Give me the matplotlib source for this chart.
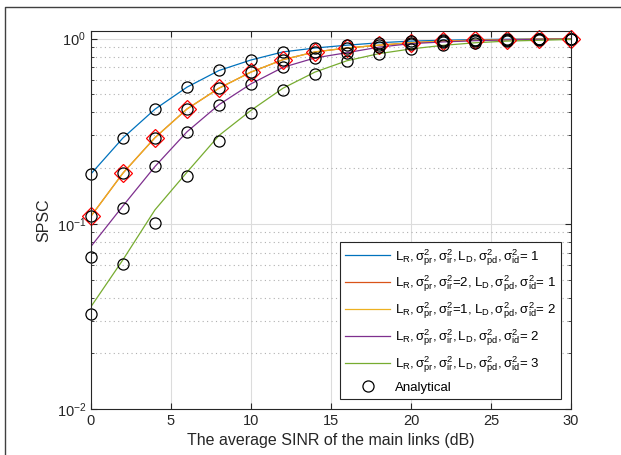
import matplotlib
matplotlib.use("Agg")
import matplotlib.pyplot as plt
from matplotlib.lines import Line2D
from matplotlib.ticker import LogLocator, NullFormatter

plt.rc("font", family="Liberation Sans", size=10.5)
plt.rc("mathtext", fontset="custom", rm="Liberation Sans", it="Liberation Sans:italic",
       bf="Liberation Sans:bold")

# SINR grid (dB)
sinr = [0, 2, 4, 6, 8, 10, 12, 14, 16, 18, 20, 22, 24, 26, 28, 30]

# simulated curves (lines)
sim_1 = [0.186, 0.291, 0.416, 0.547, 0.673, 0.767, 0.848, 0.89, 0.922, 0.95, 0.97, 0.98, 0.988, 0.993, 0.996, 0.998]
sim_2 = [0.110, 0.188, 0.292, 0.417, 0.54, 0.66, 0.77, 0.848, 0.89, 0.922, 0.95, 0.97, 0.98, 0.988, 0.993, 0.996]
sim_3 = sim_2
sim_4 = [0.0755, 0.125, 0.204, 0.314, 0.44, 0.57, 0.70, 0.787, 0.84, 0.90, 0.94, 0.96, 0.975, 0.985, 0.99, 0.995]
sim_5 = [0.0357, 0.064, 0.119, 0.19, 0.30, 0.41, 0.54, 0.66, 0.76, 0.83, 0.88, 0.92, 0.95, 0.97, 0.98, 0.99]

# analytical points (circles)
ana_1 = sim_1
ana_2 = sim_2
ana_4 = [0.066, 0.121, 0.204, 0.314, 0.44, 0.57, 0.70, 0.787, 0.84, 0.90, 0.94, 0.96, 0.975, 0.985, 0.99, 0.995]
ana_5 = [0.0326, 0.0605, 0.1006, 0.181, 0.281, 0.396, 0.525, 0.643, 0.754, 0.83, 0.88, 0.92, 0.95, 0.97, 0.98, 0.99]

labels = [
    r"$\mathrm{L_R,\sigma^2_{pr},\sigma^2_{ir},L_D,\sigma^2_{pd},\sigma^2_{id}}$= 1",
    r"$\mathrm{L_R,\sigma^2_{pr},\sigma^2_{ir}}$=2, $\mathrm{L_D,\sigma^2_{pd},\sigma^2_{id}}$= 1",
    r"$\mathrm{L_R,\sigma^2_{pr},\sigma^2_{ir}}$=1, $\mathrm{L_D,\sigma^2_{pd},\sigma^2_{id}}$= 2",
    r"$\mathrm{L_R,\sigma^2_{pr},\sigma^2_{ir},L_D,\sigma^2_{pd},\sigma^2_{id}}$= 2",
    r"$\mathrm{L_R,\sigma^2_{pr},\sigma^2_{ir},L_D,\sigma^2_{pd},\sigma^2_{id}}$= 3",
]
colors = ["#0072BD", "#D95319", "#EDB120", "#7E2F8E", "#77AC30"]

fig = plt.figure(figsize=(6.21, 4.55), dpi=100)
ax = fig.add_axes([0.1465, 0.1011, 0.773, 0.8308])

for vals, col, lab in zip([sim_1, sim_2, sim_3, sim_4, sim_5], colors, labels):
    ax.plot(sinr, vals, color=col, linewidth=0.9, label=lab)

# red diamonds on the second curve
ax.plot(sinr, sim_2, linestyle="None", marker="D", markersize=9, markerfacecolor="none",
        markeredgecolor="red", markeredgewidth=0.9, label="_nolegend_", clip_on=False)

first = True
for vals in [ana_1, ana_2, ana_4, ana_5]:
    ax.plot(sinr, vals, linestyle="None", marker="o", markersize=8, markerfacecolor="none",
            markeredgecolor="black", markeredgewidth=0.9, clip_on=False,
            label="Analytical" if first else "_nolegend_")
    first = False

ax.set_yscale("log")
ax.set_xlim(0, 30)
ax.set_ylim(0.01, 1.1)
ax.set_xticks([0, 5, 10, 15, 20, 25, 30])
ax.yaxis.set_minor_locator(LogLocator(base=10, subs=range(2, 10)))
ax.yaxis.set_minor_formatter(NullFormatter())

ax.grid(True, which="major", color="#dcdcdc", linewidth=0.8, linestyle="-")
ax.grid(True, which="minor", axis="y", color="#b0b0b0", linewidth=0.8, linestyle=(0, (1, 3)))
ax.set_axisbelow(True)
ax.tick_params(which="both", direction="in", top=True, right=True, colors="#262626")
ax.tick_params(which="major", length=4)
ax.tick_params(which="minor", length=2)
for sp in ax.spines.values():
    sp.set_color("#262626")
    sp.set_linewidth(0.8)

ax.set_xlabel("The average SINR of the main links (dB)", fontsize=11.5, color="#262626")
ax.set_ylabel("SPSC", fontsize=11.5, color="#262626")

leg = ax.legend(loc="lower right", fontsize=9.5, frameon=True, fancybox=False,
                edgecolor="#262626", framealpha=1, borderpad=0.4, labelspacing=0.48,
                handlelength=3.4, handletextpad=0.35, borderaxespad=0.75)
leg.get_frame().set_linewidth(0.8)

# outer frame
fig.add_artist(Line2D([5 / 621, 5 / 621, 1.0], [0.0, 1 - 7 / 455, 1 - 7 / 455],
                      transform=fig.transFigure, color="#404040", linewidth=1.0))

fig.savefig("out.png", dpi=100)
